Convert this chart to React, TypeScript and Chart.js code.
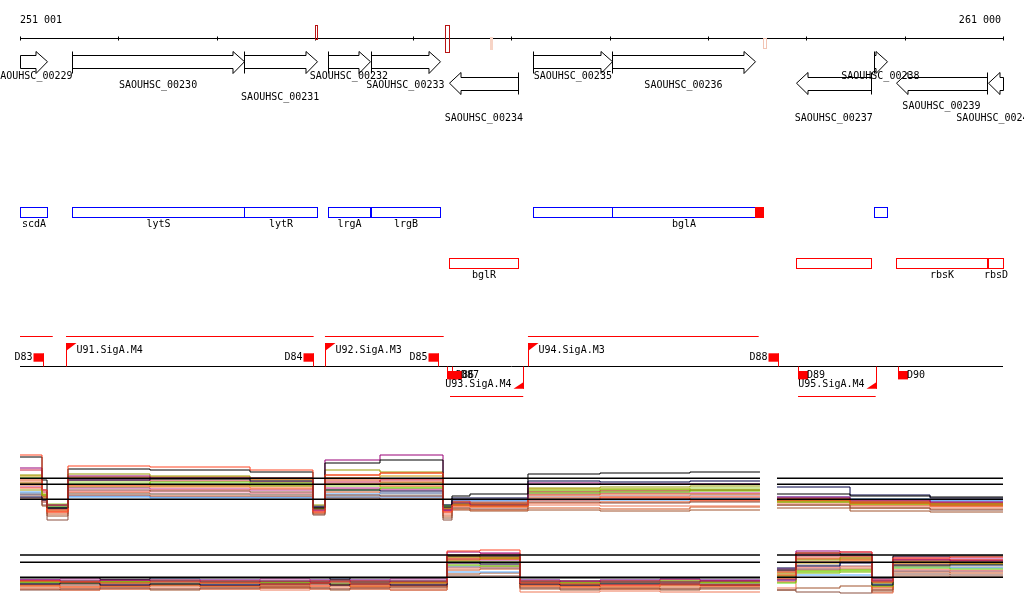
import React, { useEffect, useRef } from "react";
import { Chart, registerables } from "chart.js";

Chart.register(...registerables);

// ---------------- DATA ----------------
const VIEW_START = 251001;
const VIEW_END = 261000;
const TICK_STEP = 1000;

const GENE_TAGS = [
  "SAOUHSC_00229", "SAOUHSC_00230", "SAOUHSC_00231", "SAOUHSC_00232", "SAOUHSC_00233", "SAOUHSC_00234",
  "SAOUHSC_00235", "SAOUHSC_00236", "SAOUHSC_00237", "SAOUHSC_00238", "SAOUHSC_00239", "SAOUHSC_00240",
];
const GENE_NAMES = ["scdA", "lytS", "lytR", "lrgA", "lrgB", "bglR", "", "bglA", "", "", "rbsK", "rbsD"];
const GENE_START = [250700, 251533, 253277, 254131, 254568, 255368, 256222, 257026, 258897, 259688, 259915, 260847];
const GENE_END = [251273, 253277, 254019, 254561, 255273, 256070, 257026, 258474, 259660, 259817, 260834, 261300];
const GENE_STRAND = [1, 1, 1, 1, 1, -1, 1, 1, -1, 1, -1, -1];

// marks on the coordinate axis
const AXIS_MARK_START = [254002, 255324, 255782, 258559];
const AXIS_MARK_END = [254025, 255362, 255802, 258589];
// mark on the gene-name track
const NAME_MARK_START = [258474];
const NAME_MARK_END = [258555];

// transcripts
const TX_FWD_START = [250800, 251469, 254103, 256168];
const TX_FWD_END = [251334, 253988, 255311, 258515];
const TX_REV_START = [255375, 258915];
const TX_REV_END = [256120, 259705];

// promoters (U) and terminators (D)
const PROM_NAMES = ["U91.SigA.M4", "U92.SigA.M3", "U94.SigA.M3", "U93.SigA.M4", "U95.SigA.M4"];
const PROM_POS = [251469, 254103, 256168, 256120, 259705];
const PROM_STRAND = [1, 1, 1, -1, -1];
const TERM_NAMES = ["D83", "D84", "D85", "D88", "D86", "D87", "D89", "D90"];
const TERM_POS = [251238, 253984, 255256, 258715, 255341, 255395, 258918, 259929];
const TERM_STRAND = [1, 1, 1, 1, -1, -1, -1, -1];

// expression profiles
const GAP_START = 258528;
const GAP_END = 258701;
const P1_X = [251001, 251225, 251276, 251489, 252323, 253341, 253981, 254103, 254663, 255304, 255395,
  255578, 256168, 256901, 257816, 258528, 258579, 258701, 259444, 260258, 261000];
const P2_X = [251001, 251408, 251815, 252323, 252832, 253442, 253951, 254154, 254358, 254765, 255345,
  255680, 256087, 256494, 256901, 257511, 257918, 258528, 258579, 258701, 258894, 259342, 259667,
  259881, 260461, 261000];
const P1_REF = [9.34, 8.14, 5.14];
const P2_REF = [9.0, 7.54, 4.54];

const SERIES_COLORS = [
  "#ff4422", "#000000", "#990077", "#000044", "#999900", "#66dd00", "#e06020", "#8b5040",
  "#55aaff", "#cc2244", "#ff6633", "#ee7755", "#99cc33", "#999999", "#bb3399", "#cc5522",
  "#ff99bb", "#dd4411", "#77bb00", "#4477cc", "#a0522d", "#cc9900",
];

const P1_SERIES = [
  [14, 7, 2.6, 11.8, 11.6, 11, 2.6, 10, 10.4, 2.6, 4, 3.8, 5, 5.4, 5, 5, null, 5, 4.4, 4, 4],
  [13.6, 9, 3.4, 11.2, 11, 10.6, 3.4, 12.4, 13, 4, 5.8, 6.2, 10.2, 10.4, 10.6, 10.6, null, 6.2, 5.8, 5.6, 5.6],
  [11.4, 7, 4, 9.8, 9.4, 9.4, 3, 13, 14, 3, 4.4, 4, 8.4, 8.2, 8.2, 8.2, null, 5.6, 5, 4.6, 4.6],
  [5.6, 5, 3.4, 9, 9.2, 8.8, 3.6, 7, 6.8, 3.6, 5.4, 5.4, 8.8, 8.6, 8.8, 8.8, null, 7.6, 6, 5.4, 5.4],
  [10, 6, 4, 10.2, 9.8, 9.4, 4, 11, 10.6, 3.4, 4, 3.8, 7.4, 7.6, 7.8, 7.8, null, 5, 4.4, 4.2, 4.2],
  [9.4, 6, 3.6, 8.2, 8.6, 8.4, 3.2, 7, 7.4, 3.8, 4.2, 4, 6.4, 6.6, 7, 7, null, 4.6, 4.2, 4, 4],
  [8, 5, 3, 9.4, 9.6, 9.2, 3.4, 10, 10.4, 3.2, 4.6, 4.2, 6, 6.2, 6.2, 6.2, null, 5.4, 4.8, 4.4, 4.4],
  [6, 4, 1, 7, 6.8, 6.6, 2, 6, 5.8, 1, 3.4, 3.2, 4.6, 4.4, 4.6, 4.6, null, 4, 3.4, 3, 3],
  [6.6, 5, 3.6, 5.6, 5.4, 5.4, 3.8, 6.2, 6.4, 4, 5, 5, 5, 5, 5.2, 5.2, null, 5.6, 5.2, 5, 5],
  [11, 6.6, 3.8, 9, 8.8, 8.6, 3.8, 8.6, 9, 3.4, 4.8, 4.4, 6.6, 6.8, 7, 7, null, 5.2, 4.6, 4.4, 4.4],
  [7.4, 4.6, 2.6, 7.8, 7.6, 7.4, 3, 8.2, 7.8, 2.6, 3.8, 3.6, 5.4, 5.6, 5.6, 5.6, null, 4.8, 4.2, 3.8, 3.8],
  [8.6, 5.4, 3.2, 6.6, 7, 7.2, 2.6, 9.4, 9.2, 2.2, 3.6, 3.6, 4, 3.8, 3.8, 3.8, null, 4.4, 3.8, 3.6, 3.6],
  [7, 5.4, 4.2, 8.6, 8.2, 7.8, 3.8, 7.8, 7.6, 3.6, 4.4, 4.4, 7, 7.2, 7.4, 7.4, null, 5, 4.6, 4.2, 4.2],
  [6.4, 5, 3.4, 6.2, 6.2, 6, 3.4, 5.8, 6, 3.2, 4.6, 4.6, 5.6, 5.8, 6, 6, null, 5.2, 4.6, 4.2, 4.2],
  [7.6, 5.2, 3.2, 7.4, 7.2, 7, 2.8, 7.4, 7.2, 2.8, 4.2, 4.2, 6.2, 6.4, 6.4, 6.4, null, 5, 4.6, 4, 4],
  [8.2, 5.6, 2.2, 6, 5.8, 5.8, 2.4, 6.6, 6.4, 1.8, 3.2, 3, 3.4, 3.2, 3.6, 3.6, null, 4, 3.4, 3.2, 3.2],
  [7, 5, 3.8, 6.8, 6.6, 6.4, 3.6, 7.2, 7, 3.4, 4.6, 4.6, 5.8, 5.8, 5.8, 5.8, null, 5.2, 4.8, 4.4, 4.4],
  [9, 5.8, 2.8, 8, 8, 7.8, 3.2, 9, 8.6, 3, 4, 4, 4.4, 4.6, 4.8, 4.8, null, 4.6, 4, 3.8, 3.8],
  [8.4, 5.6, 4, 7.6, 7.8, 8, 3.6, 8.2, 8.4, 3.6, 4.4, 4.2, 6.8, 7, 6.8, 6.8, null, 5, 4.4, 4.2, 4.2],
  [6.2, 4.6, 3.2, 5.8, 5.6, 5.6, 3.2, 5.6, 5.6, 3, 4.8, 4.8, 5.2, 5.2, 5.4, 5.4, null, 5.4, 5, 4.8, 4.8],
  [5.4, 3.8, 1.8, 6.4, 6.2, 6.2, 2.2, 5.4, 5.2, 1.4, 3, 2.8, 3, 2.8, 3, 3, null, 3.4, 2.8, 2.6, 2.6],
  [9.8, 6.2, 3.8, 9.6, 9.2, 9, 3.6, 9.4, 9.8, 3.2, 4.2, 4, 7.2, 7.2, 7, 7, null, 4.8, 4.4, 4, 4],
];

const P2_SERIES = [
  [3.8, 3.6, 3.4, 3.6, 3.4, 3.2, 3.4, 3.6, 3.2, 3.4, 9.8, 10, 3.4, 3.2, 3, 3.2, 3, 3, null, 5, 9.4, 9.6, 3.6, 8.4, 8.6, 8.6],
  [4.4, 4.4, 4.2, 4.4, 4.4, 4.4, 4.4, 4.2, 4.4, 4.4, 8.8, 8.8, 4.4, 4.4, 4.4, 4.4, 4.4, 4.4, null, 6, 9.4, 9.2, 4.4, 8.8, 8.8, 8.8],
  [4, 3.8, 4, 3.8, 3.6, 3.8, 3.6, 3.8, 3.6, 3.8, 9.6, 9.4, 3.6, 3.8, 3.6, 3.6, 3.8, 3.8, null, 4, 9.8, 9.6, 3.8, 8, 7.8, 7.8],
  [3.2, 3.4, 3, 3.2, 3, 3.2, 3.4, 3, 3.2, 3, 7.4, 7.2, 3.2, 3, 3.2, 3.2, 3, 3, null, 6.4, 6.8, 7.4, 3, 7, 7, 7],
  [3.4, 3.6, 3.4, 3.2, 3.4, 3.6, 3.4, 3.2, 3.4, 3.6, 8.6, 8.4, 3.4, 3.2, 3.4, 3.6, 3.4, 3.4, null, 4.8, 8, 8.4, 3.4, 6.8, 7.2, 7.2],
  [3.6, 3.4, 3.6, 3.8, 3.6, 3.4, 3.6, 3.8, 3.6, 3.4, 7, 6.8, 3.6, 3.4, 3.6, 3.8, 3.6, 3.6, null, 3.4, 5.8, 6, 2.8, 6.4, 6.2, 6.2],
  [3, 3.2, 2.8, 3, 2.8, 3, 3.2, 3, 2.8, 3, 8, 8.2, 3, 2.8, 2.6, 2.8, 3, 3, null, 4.2, 8.4, 8.6, 2.4, 7.6, 7.4, 7.4],
  [2, 2.2, 2.4, 2.2, 2.4, 2.6, 2.4, 2.2, 2.4, 2.6, 4.8, 4.8, 2.4, 2.2, 2.4, 2.2, 2.4, 2.4, null, 2, 1.6, 1.4, 2, 5.2, 5, 5],
  [3.4, 3.2, 3.4, 3.4, 3.2, 3.4, 3.2, 3.4, 3.4, 3.2, 5.6, 5.6, 3.4, 3.2, 3.4, 3.4, 3.2, 3.2, null, 4, 5, 5, 3.2, 6.6, 6.4, 6.4],
  [3.8, 3.6, 3.8, 4, 3.8, 3.6, 3.8, 4, 3.8, 3.6, 9, 9.2, 3.8, 3.6, 3.8, 4, 3.8, 3.8, null, 5.8, 8.8, 8.8, 4, 8.2, 8, 8],
  [2.8, 2.6, 2.8, 3, 2.8, 2.6, 2.8, 3, 2.6, 2.8, 8.4, 8.2, 2.8, 2.6, 2.8, 3, 2.8, 2.8, null, 4.4, 7.6, 7.8, 2.6, 7.2, 7.4, 7.4],
  [2.2, 2, 2.2, 2.4, 2.2, 2, 2.2, 2.4, 2.2, 2, 6.4, 6.6, 1.6, 1.6, 1.8, 1.6, 1.6, 1.6, null, 2.4, 6.4, 6.6, 1.4, 6, 5.8, 5.8],
  [3.6, 3.8, 3.6, 3.4, 3.6, 3.8, 3.6, 3.4, 3.6, 3.8, 7.6, 7.4, 3.6, 3.8, 3.6, 3.4, 3.6, 3.6, null, 5.2, 5.6, 5.8, 3.6, 7.8, 7.6, 7.6],
  [3.2, 3, 3.2, 3, 3.2, 3, 3.2, 3, 3.2, 3, 6.8, 6.8, 3.2, 3, 3.2, 3, 3.2, 3.2, null, 4.6, 7, 6.8, 3, 6.8, 6.6, 6.6],
  [4, 4.2, 4, 3.8, 4, 4.2, 4, 3.8, 4, 4.2, 8.2, 8, 4, 3.8, 4, 4.2, 4, 4, null, 6.2, 9.2, 9, 4.2, 8.6, 8.4, 8.4],
  [2.6, 2.4, 2.6, 2.8, 2.6, 2.4, 2.6, 2.8, 2.6, 2.4, 6, 6.2, 2.6, 2.4, 2.2, 2.4, 2.6, 2.6, null, 3.6, 6, 6.2, 2, 5.6, 5.4, 5.4],
  [3.4, 3.2, 3, 3.2, 3.4, 3.2, 3, 3.2, 3.4, 3.2, 7.2, 7, 3.4, 3.2, 3, 3.2, 3.4, 3.4, null, 3.8, 6.6, 6.8, 3.4, 6.2, 6, 6],
  [3, 2.8, 3, 3.2, 3, 2.8, 3, 3.2, 3, 2.8, 8.8, 8.6, 3, 2.8, 3, 3.2, 3, 3, null, 5.4, 8.2, 8.2, 2.8, 8, 8, 8],
  [3.8, 3.6, 3.8, 3.6, 3.8, 3.6, 3.8, 3.6, 3.8, 3.6, 7.8, 7.6, 3.8, 3.6, 3.8, 3.6, 3.8, 3.8, null, 4.8, 5.4, 5.6, 3.8, 7.4, 7.2, 7.2],
  [4, 3.8, 4, 4.2, 4, 3.8, 4, 4.2, 4, 3.8, 6.6, 6.4, 4, 3.8, 4, 4.2, 4, 4, null, 4.2, 6.2, 7.6, 3.6, 5.8, 5.8, 5.8],
  [2.2, 2, 2.2, 2, 2.2, 2.4, 2.2, 2, 2.2, 2, 5.2, 5.4, 2.2, 2, 2.2, 2, 2.2, 2.2, null, 2, 2.4, 2.8, 1.6, 4.8, 4.6, 4.6],
  [3.6, 3.4, 3.6, 3.4, 3.6, 3.4, 3.6, 3.4, 3.6, 3.4, 8.2, 8.4, 3.6, 3.4, 3.6, 3.4, 3.6, 3.6, null, 5.6, 7.4, 8, 3.2, 7.6, 7.8, 7.8],
];

// ---------------- LAYOUT / STYLE ----------------
const W = 1024;
const H = 611;
const FONT = '10px "DejaVu Sans Mono", monospace';
const L = {
  axisY: 38.5, axisLabelY: 20, tickHalf: 2,
  fwdMid: 61.7, fwdBody: 6.6, fwdHead: 11,
  revMid: 83.2, revBody: 6.3, revHead: 10.8,
  headLen: 11.5,
  tagRowY: [76, 85, 97.7, 106.7, 118],
  nameFwdTop: 207.5, nameFwdBot: 217.5, nameFwdLabel: 224.5,
  nameRevTop: 258.5, nameRevBot: 268.5, nameRevLabel: 275.5,
  opBase: 366.5, opFwdLine: 336.5, opRevLine: 396.5,
  flagTop: 343, flagH: 8, flagW: 10, promLabelFwd: 350,
  revFlagBot: 388.7, promLabelRev: 384,
  termFwdTop: 353.3, termH: 8.4, termW: 10, termLabelFwd: 357.5,
  termRevTop: 371, termLabelRev: 375.5,
  p1Base: 525, p1PxPerUnit: 5,
  p2Base: 600, p2PxPerUnit: 5,
};
const GENE_TAG_ROW = [0, 1, 2, 0, 1, 4, 0, 1, 4, 0, 3, 4];
const AXIS_MARK_STYLE = [
  { top: 25.5, bot: 39.5, stroke: "#b81414", fill: null },
  { top: 25.5, bot: 52.5, stroke: "#b81414", fill: null },
  { top: 37.5, bot: 49.5, stroke: null, fill: "#f7d4c6" },
  { top: 38.5, bot: 48.5, stroke: "#f2c4b4", fill: null },
];
const RED = "#ff0000";

const fmt = (n: number) => String(n).replace(/\B(?=(\d{3})+(?!\d))/g, " ");

const tracksPlugin = {
  id: "tracks",
  afterDatasetsDraw(chart: any) {
    const ctx: CanvasRenderingContext2D = chart.ctx;
    const xs = chart.scales.x;
    const ys = chart.scales.yt;
    const left = chart.chartArea.left;
    const right = chart.chartArea.right;
    const X = (g: number) => xs.getPixelForValue(g);
    const Y = (p: number) => ys.getPixelForValue(p);
    const cx = (g: number) => Math.round(X(g)) + 0.5;
    const clamp = (v: number) => Math.max(left, Math.min(right, v));
    const crisp = (v: number) => Math.round(v) + 0.5;

    ctx.save();
    ctx.font = FONT;
    ctx.textBaseline = "middle";
    ctx.lineWidth = 1;

    // ---- coordinate axis ----
    ctx.strokeStyle = "#000";
    ctx.beginPath();
    ctx.moveTo(X(VIEW_START), Y(L.axisY));
    ctx.lineTo(X(VIEW_END), Y(L.axisY));
    for (let t = Math.floor(VIEW_START / TICK_STEP) * TICK_STEP; t <= VIEW_END; t += TICK_STEP) {
      const x = cx(t);
      ctx.moveTo(x, Y(L.axisY - L.tickHalf));
      ctx.lineTo(x, Y(L.axisY + L.tickHalf));
    }
    ctx.stroke();
    ctx.fillStyle = "#000";
    ctx.textAlign = "left";
    ctx.fillText(fmt(VIEW_START), X(VIEW_START), Y(L.axisLabelY));
    ctx.textAlign = "right";
    ctx.fillText(fmt(VIEW_END), X(VIEW_END) - 2, Y(L.axisLabelY));

    AXIS_MARK_START.forEach((s, i) => {
      const st = AXIS_MARK_STYLE[i];
      const x0 = cx(s), x1 = Math.max(cx(AXIS_MARK_END[i]), x0 + 1);
      if (st.fill) {
        ctx.fillStyle = st.fill;
        ctx.fillRect(x0 - 0.5, Y(st.top) - 0.5, x1 - x0 + 1, Y(st.bot) - Y(st.top) + 1);
      }
      if (st.stroke) {
        ctx.strokeStyle = st.stroke;
        ctx.strokeRect(x0, Y(st.top), x1 - x0, Y(st.bot) - Y(st.top));
      }
    });

    // ---- gene arrows ----
    ctx.strokeStyle = "#000";
    GENE_START.forEach((gs, i) => {
      const s = X(gs), e = X(GENE_END[i]);
      const vs = crisp(clamp(s)), ve = crisp(clamp(e));
      const fwd = GENE_STRAND[i] > 0;
      const mid = Y(fwd ? L.fwdMid : L.revMid);
      const bh = fwd ? L.fwdBody : L.revBody;
      const hh = fwd ? L.fwdHead : L.revHead;
      const tail = fwd ? vs : ve;
      const tip = fwd ? ve : vs;
      const dir = fwd ? 1 : -1;
      const hl = Math.min(L.headLen, Math.abs(tip - tail));
      const hb = tip - dir * hl;
      ctx.beginPath();
      ctx.moveTo(tail, crisp(mid - bh));
      ctx.lineTo(hb, crisp(mid - bh));
      ctx.lineTo(hb, crisp(mid - hh));
      ctx.lineTo(tip, mid);
      ctx.lineTo(hb, crisp(mid + hh));
      ctx.lineTo(hb, crisp(mid + bh));
      ctx.lineTo(tail, crisp(mid + bh));
      ctx.closePath();
      ctx.fillStyle = "#fff";
      ctx.fill();
      ctx.stroke();
      const tailClipped = fwd ? s < left : e > right;
      if (!tailClipped) {
        ctx.beginPath();
        ctx.moveTo(tail, crisp(mid - hh));
        ctx.lineTo(tail, crisp(mid + hh));
        ctx.stroke();
      }
    });
    ctx.fillStyle = "#000";
    ctx.textAlign = "center";
    GENE_TAGS.forEach((tag, i) => {
      const vs = clamp(X(GENE_START[i])), ve = clamp(X(GENE_END[i]));
      ctx.fillText(tag, (vs + ve) / 2, Y(L.tagRowY[GENE_TAG_ROW[i]]));
    });

    // ---- gene name track ----
    GENE_START.forEach((gs, i) => {
      const fwd = GENE_STRAND[i] > 0;
      const vs = crisp(clamp(X(gs))), ve = crisp(clamp(X(GENE_END[i])));
      const top = Y(fwd ? L.nameFwdTop : L.nameRevTop);
      const bot = Y(fwd ? L.nameFwdBot : L.nameRevBot);
      ctx.strokeStyle = fwd ? "#0000ff" : RED;
      ctx.strokeRect(vs, top, ve - vs, bot - top);
      if (GENE_NAMES[i]) {
        ctx.fillStyle = "#000";
        ctx.fillText(GENE_NAMES[i], (vs + ve) / 2, Y(fwd ? L.nameFwdLabel : L.nameRevLabel));
      }
    });
    NAME_MARK_START.forEach((s, i) => {
      ctx.fillStyle = RED;
      const x0 = cx(s), x1 = cx(NAME_MARK_END[i]);
      ctx.fillRect(x0 - 0.5, Y(L.nameFwdTop) - 0.5, x1 - x0 + 1, Y(L.nameFwdBot) - Y(L.nameFwdTop) + 1);
    });

    // ---- operon / transcript track ----
    ctx.strokeStyle = "#000";
    ctx.beginPath();
    ctx.moveTo(left, Y(L.opBase));
    ctx.lineTo(right, Y(L.opBase));
    ctx.stroke();
    ctx.strokeStyle = RED;
    ctx.beginPath();
    TX_FWD_START.forEach((s, i) => {
      ctx.moveTo(clamp(X(s)), Y(L.opFwdLine));
      ctx.lineTo(clamp(X(TX_FWD_END[i])), Y(L.opFwdLine));
    });
    TX_REV_START.forEach((s, i) => {
      ctx.moveTo(clamp(X(s)), Y(L.opRevLine));
      ctx.lineTo(clamp(X(TX_REV_END[i])), Y(L.opRevLine));
    });
    ctx.stroke();

    // terminators
    TERM_POS.forEach((p, i) => {
      const x = cx(p);
      const fwd = TERM_STRAND[i] > 0;
      ctx.strokeStyle = RED;
      ctx.fillStyle = RED;
      if (fwd) {
        ctx.fillRect(x - L.termW, Y(L.termFwdTop), L.termW, L.termH);
        ctx.beginPath();
        ctx.moveTo(x, Y(L.termFwdTop));
        ctx.lineTo(x, Y(L.opBase));
        ctx.stroke();
        ctx.fillStyle = "#000";
        ctx.textAlign = "right";
        ctx.fillText(TERM_NAMES[i], x - L.termW - 1, Y(L.termLabelFwd));
      } else {
        ctx.beginPath();
        ctx.moveTo(x, Y(L.opBase));
        ctx.lineTo(x, Y(L.termRevTop));
        ctx.stroke();
        ctx.fillRect(x - 0.5, Y(L.termRevTop), L.termW, L.termH);
        ctx.fillStyle = "#000";
        ctx.textAlign = "left";
        ctx.fillText(TERM_NAMES[i], x + 8.5, Y(L.termLabelRev));
      }
    });

    // promoters
    PROM_POS.forEach((p, i) => {
      const x = cx(p);
      const fwd = PROM_STRAND[i] > 0;
      ctx.strokeStyle = RED;
      ctx.fillStyle = RED;
      ctx.beginPath();
      if (fwd) {
        ctx.moveTo(x, Y(L.flagTop));
        ctx.lineTo(x, Y(L.opBase));
        ctx.stroke();
        ctx.beginPath();
        ctx.moveTo(x - 0.5, Y(L.flagTop));
        ctx.lineTo(x + L.flagW, Y(L.flagTop));
        ctx.lineTo(x - 0.5, Y(L.flagTop + L.flagH));
        ctx.closePath();
        ctx.fill();
        ctx.fillStyle = "#000";
        ctx.textAlign = "left";
        ctx.fillText(PROM_NAMES[i], x + L.flagW, Y(L.promLabelFwd));
      } else {
        ctx.moveTo(x, Y(L.opBase));
        ctx.lineTo(x, Y(L.revFlagBot));
        ctx.stroke();
        ctx.beginPath();
        ctx.moveTo(x + 0.5, Y(L.revFlagBot - L.flagH + 1));
        ctx.lineTo(x + 0.5, Y(L.revFlagBot));
        ctx.lineTo(x - L.flagW, Y(L.revFlagBot));
        ctx.closePath();
        ctx.fill();
        ctx.fillStyle = "#000";
        ctx.textAlign = "right";
        ctx.fillText(PROM_NAMES[i], x - L.flagW - 2, Y(L.promLabelRev));
      }
    });

    ctx.restore();
  },
};

function refLine(v: number) {
  return [
    { x: VIEW_START, y: v },
    { x: GAP_START, y: v },
    { x: (GAP_START + GAP_END) / 2, y: null },
    { x: GAP_END, y: v },
    { x: VIEW_END, y: v },
  ];
}

function buildDatasets() {
  const ds: any[] = [];
  P1_REF.forEach((v) =>
    ds.push({ data: refLine(v), yAxisID: "y1", borderColor: "#000", borderWidth: 1.6, pointRadius: 0, order: -1, spanGaps: false })
  );
  P2_REF.forEach((v) =>
    ds.push({ data: refLine(v), yAxisID: "y2", borderColor: "#000", borderWidth: 1.6, pointRadius: 0, order: -1, spanGaps: false })
  );
  P1_SERIES.forEach((vals, i) =>
    ds.push({
      data: P1_X.map((x, j) => ({ x, y: vals[j] })),
      yAxisID: "y1", borderColor: SERIES_COLORS[i], borderWidth: 1, pointRadius: 0,
      stepped: "before", spanGaps: false,
    })
  );
  P2_SERIES.forEach((vals, i) =>
    ds.push({
      data: P2_X.map((x, j) => ({ x, y: vals[j] })),
      yAxisID: "y2", borderColor: SERIES_COLORS[i], borderWidth: 1, pointRadius: 0,
      stepped: "before", spanGaps: false,
    })
  );
  return ds;
}

export default function App() {
  const ref = useRef<HTMLCanvasElement>(null);
  useEffect(() => {
    document.body.style.margin = "0";
    const chart = new Chart(ref.current as HTMLCanvasElement, {
      type: "line",
      data: { datasets: buildDatasets() },
      options: {
        animation: false,
        responsive: false,
        devicePixelRatio: 1,
        events: [],
        layout: { padding: { left: 20, right: 21, top: 0, bottom: 0 } },
        plugins: { legend: { display: false }, tooltip: { enabled: false } },
        scales: {
          x: { type: "linear", min: VIEW_START, max: VIEW_END, display: false },
          yt: { type: "linear", min: 0, max: H, reverse: true, display: false },
          y1: {
            type: "linear", display: false,
            min: (L.p1Base - H) / L.p1PxPerUnit, max: L.p1Base / L.p1PxPerUnit,
          },
          y2: {
            type: "linear", display: false,
            min: (L.p2Base - H) / L.p2PxPerUnit, max: L.p2Base / L.p2PxPerUnit,
          },
        },
      } as any,
      plugins: [tracksPlugin],
    });
    return () => chart.destroy();
  }, []);
  return (
    <div style={{ width: W, height: H, background: "#fff" }}>
      <canvas ref={ref} width={W} height={H} style={{ display: "block" }} />
    </div>
  );
}
